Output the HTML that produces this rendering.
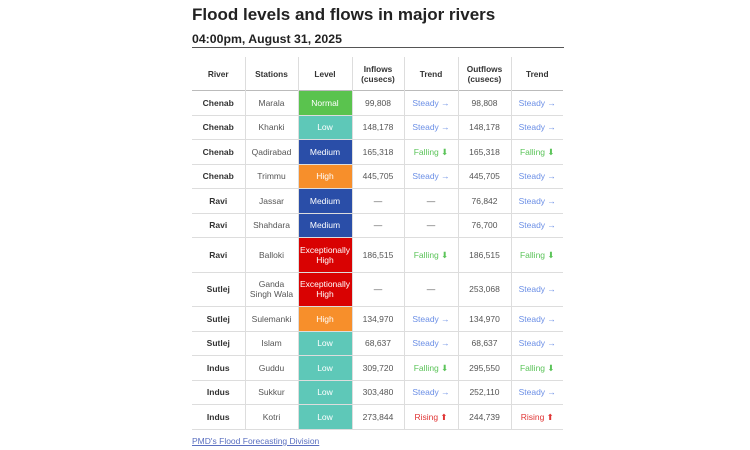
<!DOCTYPE html>
<html><head><meta charset="utf-8"><style>
body{margin:0;width:750px;height:450px;background:#fff;font-family:"Liberation Sans",sans-serif;position:relative;overflow:hidden}
h1{position:absolute;left:192px;top:1px;margin:0;font-size:17px;font-weight:bold;color:#222;line-height:28px}
h2{position:absolute;left:192px;top:30px;margin:0;font-size:12.3px;font-weight:bold;color:#222;line-height:18px}
.rule{position:absolute;left:192px;top:47px;width:372px;height:1px;background:#555}
table{position:absolute;left:192px;top:57px;border-collapse:collapse;table-layout:fixed;width:371px;font-size:8.5px;color:#555}
td,th{text-align:center;padding:0;border-left:1px solid #ddd;line-height:10px}
td:first-child,th:first-child{border-left:none}
tr{border-bottom:1px solid #ddd}
th{font-weight:bold;color:#333;height:33px;font-size:8.3px}
thead tr{border-bottom:1px solid #bbb}
td.r{font-weight:bold;color:#333}
tr.s td{height:23.5px}
tr.d td{height:33.5px}
.lv{color:#fff}
.N{background:#5ac34e}.L{background:#5ec8b8}.M{background:#2a4ea8}.H{background:#f78f2b}.E{background:#d90202}
.st{color:#6b8fe6}.fa{color:#5cc45a}.ri{color:#e03535}
a{position:absolute;left:192px;top:436px;font-size:8.5px;color:#5a6fc0;text-decoration:underline}
</style></head><body>
<h1>Flood levels and flows in major rivers</h1>
<h2>04:00pm, August 31, 2025</h2>
<div class="rule"></div>
<table>
<colgroup><col style="width:53px"><col style="width:53px"><col style="width:54px"><col style="width:52px"><col style="width:54px"><col style="width:53px"><col style="width:52px"></colgroup>
<thead><tr><th>River</th><th>Stations</th><th>Level</th><th>Inflows<br>(cusecs)</th><th>Trend</th><th>Outflows<br>(cusecs)</th><th>Trend</th></tr></thead>
<tbody>
<tr class="s"><td class="r">Chenab</td><td>Marala</td><td class="lv N">Normal</td><td>99,808</td><td class="st">Steady →</td><td>98,808</td><td class="st">Steady →</td></tr>
<tr class="s"><td class="r">Chenab</td><td>Khanki</td><td class="lv L">Low</td><td>148,178</td><td class="st">Steady →</td><td>148,178</td><td class="st">Steady →</td></tr>
<tr class="s"><td class="r">Chenab</td><td>Qadirabad</td><td class="lv M">Medium</td><td>165,318</td><td class="fa">Falling ⬇</td><td>165,318</td><td class="fa">Falling ⬇</td></tr>
<tr class="s"><td class="r">Chenab</td><td>Trimmu</td><td class="lv H">High</td><td>445,705</td><td class="st">Steady →</td><td>445,705</td><td class="st">Steady →</td></tr>
<tr class="s"><td class="r">Ravi</td><td>Jassar</td><td class="lv M">Medium</td><td>—</td><td>—</td><td>76,842</td><td class="st">Steady →</td></tr>
<tr class="s"><td class="r">Ravi</td><td>Shahdara</td><td class="lv M">Medium</td><td>—</td><td>—</td><td>76,700</td><td class="st">Steady →</td></tr>
<tr class="d"><td class="r">Ravi</td><td>Balloki</td><td class="lv E">Exceptionally<br>High</td><td>186,515</td><td class="fa">Falling ⬇</td><td>186,515</td><td class="fa">Falling ⬇</td></tr>
<tr class="d"><td class="r">Sutlej</td><td>Ganda<br>Singh Wala</td><td class="lv E">Exceptionally<br>High</td><td>—</td><td>—</td><td>253,068</td><td class="st">Steady →</td></tr>
<tr class="s"><td class="r">Sutlej</td><td>Sulemanki</td><td class="lv H">High</td><td>134,970</td><td class="st">Steady →</td><td>134,970</td><td class="st">Steady →</td></tr>
<tr class="s"><td class="r">Sutlej</td><td>Islam</td><td class="lv L">Low</td><td>68,637</td><td class="st">Steady →</td><td>68,637</td><td class="st">Steady →</td></tr>
<tr class="s"><td class="r">Indus</td><td>Guddu</td><td class="lv L">Low</td><td>309,720</td><td class="fa">Falling ⬇</td><td>295,550</td><td class="fa">Falling ⬇</td></tr>
<tr class="s"><td class="r">Indus</td><td>Sukkur</td><td class="lv L">Low</td><td>303,480</td><td class="st">Steady →</td><td>252,110</td><td class="st">Steady →</td></tr>
<tr class="s"><td class="r">Indus</td><td>Kotri</td><td class="lv L">Low</td><td>273,844</td><td class="ri">Rising ⬆</td><td>244,739</td><td class="ri">Rising ⬆</td></tr>
</tbody></table>
<a>PMD's Flood Forecasting Division</a>
</body></html>
